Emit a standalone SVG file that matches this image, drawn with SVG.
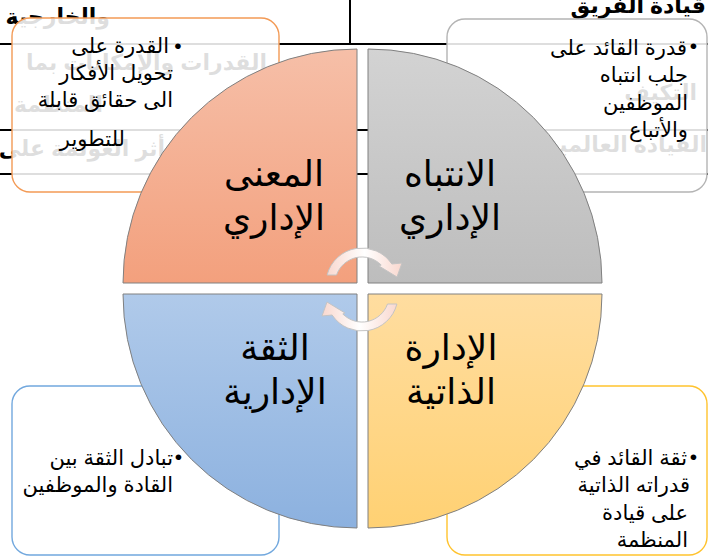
<svg xmlns="http://www.w3.org/2000/svg" width="708" height="556" viewBox="0 0 708 556">
<defs>
<linearGradient id="gO" x1="0" y1="0" x2="0" y2="1"><stop offset="0" stop-color="#F6BFA8"/><stop offset="1" stop-color="#F3A07D"/></linearGradient>
<linearGradient id="gG" x1="0" y1="0" x2="0" y2="1"><stop offset="0" stop-color="#D3D3D3"/><stop offset="1" stop-color="#BDBDBD"/></linearGradient>
<linearGradient id="gB" x1="0" y1="0" x2="0" y2="1"><stop offset="0" stop-color="#B0CAEA"/><stop offset="1" stop-color="#8CB1DF"/></linearGradient>
<linearGradient id="gY" x1="0" y1="0" x2="0" y2="1"><stop offset="0" stop-color="#FFDDA0"/><stop offset="1" stop-color="#FFD173"/></linearGradient>
<linearGradient id="gA" x1="0" y1="0" x2="1" y2="0"><stop offset="0" stop-color="#F9D8CF"/><stop offset="0.5" stop-color="#FFFFFF"/><stop offset="1" stop-color="#F9D8CF"/></linearGradient>
<style>
.t{font-family:"Liberation Sans","DejaVu Sans",sans-serif;fill:#000}
.bg{font-size:22px;font-weight:bold}
.q{font-size:36px;text-anchor:middle}
.b{font-size:21px;text-anchor:end}
.dot{font-size:21px;text-anchor:middle}
.tl{stroke:#000;stroke-width:2;fill:none}
.box{fill:#fff;fill-opacity:0.87;stroke-width:1.4}
.quad{stroke:#808080;stroke-width:1}
.arr{fill:url(#gA);stroke:#C4C4C4;stroke-width:1}
</style>
</defs>
<rect width="708" height="556" fill="#fff"/>
<g id="background-table">
<line class="tl" x1="0" y1="44" x2="708" y2="44"/>
<line class="tl" x1="0" y1="130" x2="708" y2="130"/>
<line class="tl" x1="0" y1="174" x2="708" y2="174"/>
<line class="tl" x1="350" y1="0" x2="350" y2="44"/>
<text class="t bg" x="110" y="24" text-anchor="end">والخارجية</text>
<text class="t bg" x="267" y="70" text-anchor="end">القدرات والإمكانات بما</text>
<text class="t bg" x="103" y="112" text-anchor="end">المنظمة</text>
<text class="t bg" x="165" y="156" text-anchor="end">أثر العولمة على</text>
<text class="t bg" x="706" y="13" text-anchor="end" font-size="24">قيادة الفريق</text>
<text class="t bg" x="697" y="100" text-anchor="end">التكيف</text>
<text class="t bg" x="707" y="152" text-anchor="end">القيادة العالمية</text>
</g>
<g id="box-top-left"><rect class="box" x="12" y="18" width="267" height="174" rx="18" stroke="#F39A55"/></g>
<g id="box-top-right"><rect class="box" x="447" y="19" width="260" height="173" rx="18" stroke="#B4B4B4"/></g>
<g id="box-bottom-left"><rect class="box" x="12" y="386" width="267" height="169" rx="18" stroke="#72A8DE"/></g>
<g id="box-bottom-right"><rect class="box" x="447" y="386" width="260" height="169" rx="18" stroke="#FFC32E"/></g>
<g id="quad-meaning"><path class="quad" d="M357 283 L123 283 A234 234 0 0 1 357 49 Z" fill="url(#gO)"/>
<text class="t q" x="274" y="186">المعنى</text><text class="t q" x="274" y="230">الإداري</text></g>
<g id="quad-attention"><path class="quad" d="M368 283 L368 49 A234 234 0 0 1 602 283 Z" fill="url(#gG)"/>
<text class="t q" x="450" y="186">الانتباه</text><text class="t q" x="450" y="230">الإداري</text></g>
<g id="quad-trust"><path class="quad" d="M357 294 L357 528 A234 234 0 0 1 123 294 Z" fill="url(#gB)"/>
<text class="t q" x="275" y="360">الثقة</text><text class="t q" x="275" y="404">الإدارية</text></g>
<g id="quad-self"><path class="quad" d="M368 294 L602 294 A234 234 0 0 1 368 528 Z" fill="url(#gY)"/>
<text class="t q" x="451" y="360">الإدارة</text><text class="t q" x="451" y="404">الذاتية</text></g>
<g id="connectors">
<path class="arr" d="M327.1 275 A36 36 0 0 1 391.9 264 L402 263 L397 277 L379 266 L381.2 265 A27 27 0 0 0 336.5 275 Z"/>
<path class="arr" d="M396.9 304 A36 36 0 0 1 332.1 315 L322 316 L327 302 L345 313 L342.8 314 A27 27 0 0 0 387.5 304 Z"/>
</g>
<g id="text-top-left">
<text class="t dot" x="178" y="53">•</text>
<text class="t b" x="169" y="53">القدرة على</text>
<text class="t b" x="173" y="80">تحويل الأفكار</text>
<text class="t b" x="173" y="107">الى حقائق قابلة</text>
<text class="t b" x="125" y="146">للتطوير</text>
</g>
<g id="text-top-right">
<text class="t dot" x="693.5" y="53">•</text>
<text class="t b" x="687" y="55">قدرة القائد على</text>
<text class="t b" x="688" y="82">جلب انتباه</text>
<text class="t b" x="688" y="110">الموظفين</text>
<text class="t b" x="688" y="137">والأتباع</text>
</g>
<g id="text-bottom-left">
<text class="t dot" x="178.5" y="464">•</text>
<text class="t b" x="173" y="465">تبادل الثقة بين</text>
<text class="t b" x="173" y="492">القادة والموظفين</text>
</g>
<g id="text-bottom-right">
<text class="t dot" x="693.5" y="464">•</text>
<text class="t b" x="687" y="465">ثقة القائد في</text>
<text class="t b" x="690" y="492">قدراته الذاتية</text>
<text class="t b" x="688" y="520">على قيادة</text>
<text class="t b" x="688" y="547">المنظمة</text>
</g>
</svg>
